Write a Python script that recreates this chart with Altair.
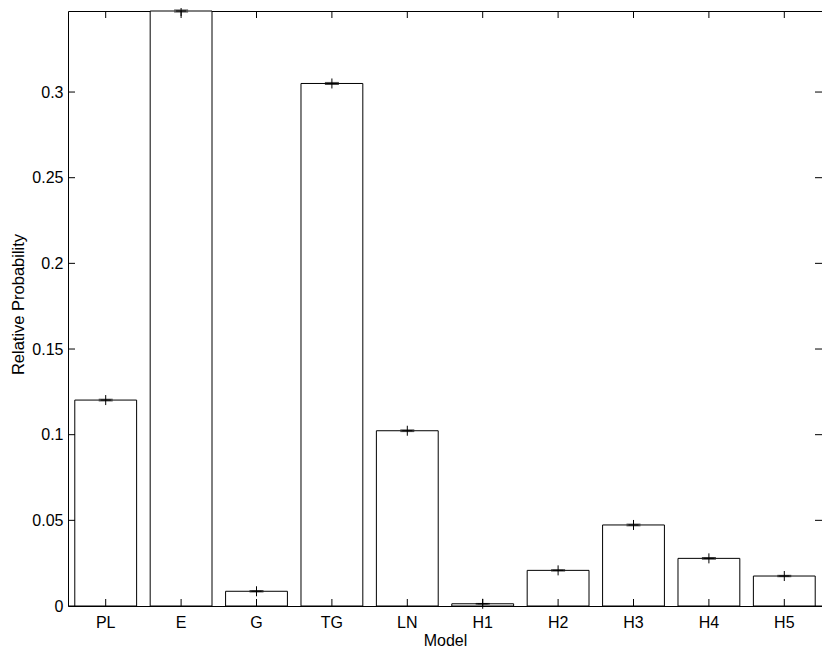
import altair as alt
import pandas as pd

models = ["PL", "E", "G", "TG", "LN", "H1", "H2", "H3", "H4", "H5"]
probs = [0.1202, 0.3473, 0.0086, 0.3050, 0.1023, 0.0013, 0.0208, 0.0473, 0.0278, 0.0175]
errs = [0.0005, 0.0006, 0.0004, 0.0006, 0.0005, 0.0002, 0.0004, 0.0005, 0.0005, 0.0004]
yticks = [0, 0.05, 0.1, 0.15, 0.2, 0.25, 0.3]
ymax = 0.3473

W, H = 754, 595
FONT = "Liberation Sans"

df = pd.DataFrame({"Model": models, "p": probs, "e": errs})
df["lo"] = df["p"] - df["e"]
df["hi"] = df["p"] + df["e"]
tdf = pd.DataFrame({"t": yticks})

xscale = alt.Scale(domain=models, paddingInner=0.18, paddingOuter=0.09)
yscale = alt.Scale(domain=[0, ymax], nice=False, zero=True)

xenc = alt.X("Model:N", scale=xscale, sort=models,
             axis=alt.Axis(title="Model", labelAngle=0, labelPadding=8,
                           titleY=39, titleBaseline="alphabetic"))
yenc = alt.Y("p:Q", scale=yscale,
             axis=alt.Axis(title="Relative Probability", values=yticks, format="~g",
                           labelPadding=5, titleX=-45, titleY=293,
                           titleFontSize=16.5,
                           titleBaseline="alphabetic"))

base = alt.Chart(df)
bars = base.mark_bar(fill="white", stroke="black", strokeWidth=1).encode(x=xenc, y=yenc)
cap_lo = base.mark_tick(color="black", thickness=1, size=14).encode(
    x=alt.X("Model:N", scale=xscale, sort=models), y=alt.Y("lo:Q", scale=yscale))
cap_hi = base.mark_tick(color="black", thickness=1, size=14).encode(
    x=alt.X("Model:N", scale=xscale, sort=models), y=alt.Y("hi:Q", scale=yscale))
plus = base.mark_point(shape="M-1,0L1,0M0,-1L0,1", size=100, filled=False,
                       stroke="black", strokeWidth=1, opacity=1).encode(
    x=alt.X("Model:N", scale=xscale, sort=models), y=alt.Y("p:Q", scale=yscale))

xt_bottom = base.mark_rule(color="black", strokeWidth=1).encode(
    x=alt.X("Model:N", scale=xscale, sort=models),
    y=alt.value(H), y2=alt.value(H - 7))
xt_top = base.mark_rule(color="black", strokeWidth=1).encode(
    x=alt.X("Model:N", scale=xscale, sort=models),
    y=alt.value(0), y2=alt.value(7))
tbase = alt.Chart(tdf)
yt_left = tbase.mark_rule(color="black", strokeWidth=1).encode(
    y=alt.Y("t:Q", scale=yscale), x=alt.value(0), x2=alt.value(7))
yt_right = tbase.mark_rule(color="black", strokeWidth=1).encode(
    y=alt.Y("t:Q", scale=yscale), x=alt.value(W), x2=alt.value(W - 7))

chart = alt.layer(bars, cap_lo, cap_hi, plus, xt_bottom, xt_top, yt_left, yt_right).properties(
    width=W, height=H,
    autosize=alt.AutoSizeParams(type="none"),
    padding={"left": 60, "top": 3, "right": 0, "bottom": 45},
    background="white",
).configure_view(
    stroke="black", strokeWidth=1
).configure_axis(
    domain=False, ticks=False, tickSize=0, grid=False,
    labelFont=FONT, labelFontSize=16, labelColor="black",
    titleFont=FONT, titleFontSize=16, titleColor="black", titleFontWeight="normal",
)

chart.save("out.html", embed_options={"renderer": "svg", "actions": False})
